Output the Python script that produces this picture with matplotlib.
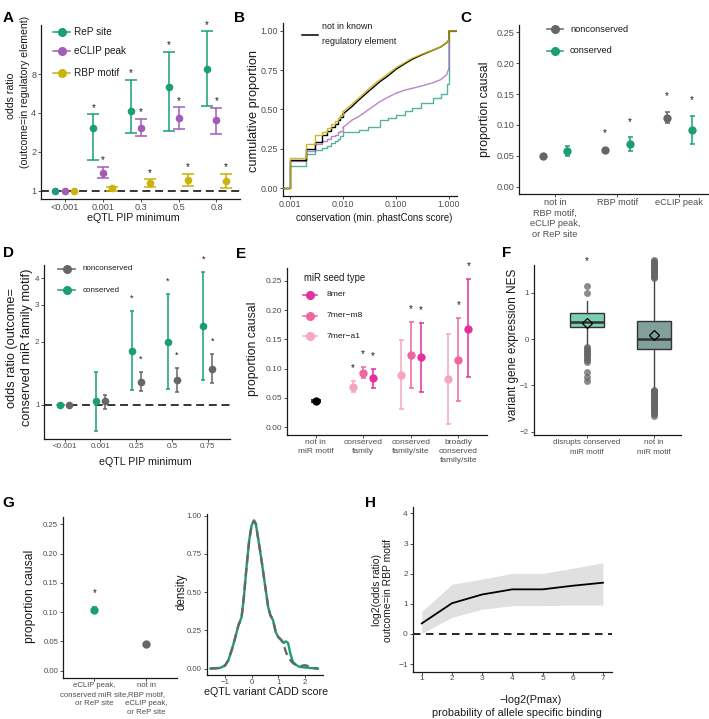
import numpy as np
import matplotlib
matplotlib.use('Agg')
import matplotlib.pyplot as plt
from matplotlib.lines import Line2D

plt.rcParams['font.family'] = ['Liberation Sans', 'DejaVu Sans']
plt.rcParams['axes.unicode_minus'] = True

# ---------------- data ----------------
GREEN = '#1b9e77'; PURPLE = '#a25cb6'; YELLOW = '#c9b30c'; GRAY = '#666666'
PINK8 = '#e3309a'; PINKM8 = '#f0649f'; PINKA1 = '#f6a6c0'

# A
A_cats = ['<0.001', '0.001', '0.3', '0.5', '0.8']
A_rep_or = [1.0, 3.05, 4.16, 6.38, 8.8]
A_rep_lo = [1.0, 1.71, 2.8, 2.89, 4.52]
A_rep_hi = [1.0, 3.89, 7.23, 11.86, 17.1]
A_rep_sig = [False, True, True, True, True]
A_eclip_or = [1.0, 1.38, 3.07, 3.64, 3.5]
A_eclip_lo = [1.0, 1.25, 2.64, 2.98, 2.75]
A_eclip_hi = [1.0, 1.53, 3.58, 4.41, 4.39]
A_eclip_sig = [False, True, True, True, True]
A_rbp_or = [1.0, 1.04, 1.14, 1.21, 1.18]
A_rbp_lo = [1.0, 1.0, 1.06, 1.09, 1.04]
A_rbp_hi = [1.0, 1.07, 1.22, 1.34, 1.34]
A_rbp_sig = [False, False, True, True, True]

# B (cumulative proportion at conservation thresholds)
B_x = [0.001, 0.002, 0.003, 0.004, 0.005, 0.006, 0.007, 0.008, 0.009, 0.010,
       0.015, 0.02, 0.03, 0.05, 0.07, 0.1, 0.15, 0.2, 0.3, 0.5, 0.7, 0.9, 0.99, 1.0]
B_none = [0.18, 0.25, 0.296, 0.338, 0.364, 0.39, 0.41, 0.433, 0.455, 0.47,
          0.52, 0.56, 0.613, 0.677, 0.712, 0.755, 0.793, 0.818, 0.846, 0.877, 0.898, 0.924, 0.94, 1.0]
B_rbp = [0.19, 0.28, 0.335, 0.36, 0.385, 0.405, 0.425, 0.447, 0.465, 0.485,
         0.535, 0.573, 0.627, 0.69, 0.725, 0.765, 0.80, 0.825, 0.85, 0.878, 0.898, 0.922, 0.94, 1.0]
B_eclip = [0.17, 0.235, 0.28, 0.30, 0.315, 0.33, 0.34, 0.355, 0.365, 0.385,
           0.433, 0.455, 0.497, 0.55, 0.577, 0.603, 0.624, 0.634, 0.649, 0.67, 0.69, 0.72, 0.76, 1.0]
B_rep = [0.14, 0.22, 0.245, 0.255, 0.27, 0.285, 0.30, 0.315, 0.33, 0.355,
         0.36, 0.37, 0.39, 0.435, 0.445, 0.465, 0.49, 0.51, 0.54, 0.57, 0.60, 0.66, 0.75, 1.0]

# C
C_cats = ['not in\nRBP motif,\neCLIP peak,\nor ReP site', 'RBP motif', 'eCLIP peak']
C_non = [0.0497, 0.0594, 0.1117]
C_non_lo = [0.049, 0.0575, 0.1027]
C_non_hi = [0.0505, 0.0615, 0.1215]
C_non_sig = [False, True, True]
C_con = [0.0578, 0.0686, 0.0918]
C_con_lo = [0.0497, 0.0578, 0.070]
C_con_hi = [0.0664, 0.080, 0.115]
C_con_sig = [False, True, True]

# D
D_cats = ['<0.001', '0.001', '0.25', '0.5', '0.75']
D_con = [1.0, 1.04, 1.81, 2.0, 2.37]
D_con_lo = [1.0, 0.75, 1.18, 1.19, 1.315]
D_con_hi = [1.0, 1.43, 2.80, 3.38, 4.27]
D_con_sig = [False, False, True, True, True]
D_non = [1.0, 1.04, 1.29, 1.315, 1.48]
D_non_lo = [1.0, 0.96, 1.166, 1.157, 1.27]
D_non_hi = [1.0, 1.11, 1.435, 1.50, 1.74]
D_non_sig = [False, False, True, True, True]

# E
E_cats = ['not in\nmiR motif', 'conserved\nfamily', 'conserved\nfamily/site', 'broadly\nconserved\nfamily/site']
E_none = [0.045]; E_none_lo = [0.0435]; E_none_hi = [0.0465]
E_a1 = [0.0695, 0.0894, 0.082]; E_a1_lo = [0.061, 0.0307, 0.005]; E_a1_hi = [0.079, 0.149, 0.159]
E_a1_sig = [True, False, False]
E_m8 = [0.0934, 0.1236, 0.115]; E_m8_lo = [0.0837, 0.0666, 0.045]; E_m8_hi = [0.1036, 0.179, 0.186]
E_m8_sig = [True, True, True]
E_8 = [0.0837, 0.1196, 0.168]; E_8_lo = [0.0678, 0.061, 0.085]; E_8_hi = [0.099, 0.178, 0.253]
E_8_sig = [True, True, True]

# F (box statistics)
F_cats = ['disrupts conserved\nmiR motif', 'not in\nmiR motif']
F_med = [0.374, 0.0]
F_q1 = [0.266, -0.216]
F_q3 = [0.555, 0.40]
F_wlo = [-0.13, -1.065]
F_whi = [0.83, 1.31]
F_mean = [0.34, 0.086]
F_fliers1 = [1.15, 1.0, -0.17, -0.2, -0.23, -0.26, -0.29, -0.32, -0.35, -0.38, -0.42, -0.45, -0.49, -0.72, -0.81, -0.91]
F_fliers2 = [1.33, 1.35, 1.37, 1.39, 1.41, 1.43, 1.45, 1.47, 1.49, 1.51, 1.53, 1.55, 1.57, 1.59, 1.61, 1.63, 1.65, 1.67, 1.69, 1.71,
             -1.09, -1.11, -1.13, -1.15, -1.17, -1.19, -1.21, -1.23, -1.25, -1.27, -1.29, -1.31, -1.33, -1.35, -1.37,
             -1.39, -1.41, -1.43, -1.45, -1.47, -1.49, -1.51, -1.53, -1.56, -1.59, -1.62, -1.66]
F_star = 1.68

# G
G_cats = ['eCLIP peak,\nconserved miR site,\nor ReP site', 'not in\nRBP motif,\neCLIP peak,\nor ReP site']
G_val = [0.104, 0.045]; G_lo = [0.101, 0.0435]; G_hi = [0.108, 0.0465]; G_sig = [True, False]
G_x = [-1.55, -1.19, -1.0, -0.875, -0.75, -0.625, -0.5, -0.375, -0.29, -0.19, -0.09, 0.0, 0.09, 0.16, 0.25,
       0.375, 0.5, 0.625, 0.71, 0.81, 0.91, 1.0, 1.125, 1.21, 1.29, 1.375, 1.46, 1.56, 1.69, 1.81, 2.0, 2.1, 2.19, 2.5]
G_dens_green = [0.0, 0.004, 0.02, 0.054, 0.12, 0.196, 0.28, 0.337, 0.467, 0.663, 0.837, 0.935, 0.967, 0.946, 0.848,
                0.707, 0.554, 0.402, 0.348, 0.315, 0.239, 0.207, 0.185, 0.167, 0.178, 0.167, 0.098, 0.043, 0.022, 0.011, 0.007, 0.006, 0.004, 0.0]
G_dens_gray = [0.0, 0.004, 0.02, 0.054, 0.12, 0.196, 0.28, 0.337, 0.467, 0.663, 0.837, 0.935, 0.967, 0.946, 0.848,
               0.707, 0.554, 0.402, 0.348, 0.315, 0.239, 0.207, 0.185, 0.160, 0.110, 0.075, 0.055, 0.035, 0.022, 0.015, 0.022, 0.018, 0.006, 0.0]

# H
H_x = [1, 2, 3, 4, 5, 6, 7]
H_y = [0.35, 1.02, 1.31, 1.48, 1.48, 1.60, 1.70]
H_lo = [0.02, 0.55, 0.82, 0.94, 0.94, 0.96, 0.96]
H_hi = [0.74, 1.65, 1.82, 2.01, 2.01, 2.18, 2.36]

# ---------------- figure ----------------
W, H = 709, 719
fig = plt.figure(figsize=(W / 100, H / 100), dpi=100)


def ax_px(l, t, r, b):
    return fig.add_axes([l / W, 1 - b / H, (r - l) / W, (b - t) / H])


def ftext(x, y, s, **kw):
    kw.setdefault('ha', 'center'); kw.setdefault('va', 'center')
    kw.setdefault('color', '#1a1a1a')
    fig.text(x / W, 1 - y / H, s, **kw)


def style(ax, fs=6.6):
    for s in ['top', 'right']:
        ax.spines[s].set_visible(False)
    for s in ['left', 'bottom']:
        ax.spines[s].set_linewidth(0.9)
        ax.spines[s].set_color('#1a1a1a')
    ax.tick_params(length=2.0, width=0.6, color='#333333', labelsize=fs, labelcolor='#4d4d4d', pad=0.6)
    ax.tick_params(axis='y', pad=1.5)
    ax.patch.set_alpha(0)


def legend_px(entries, xl0, xl1, xt, fs, marker=True):
    for (y, col, lab) in entries:
        fig.add_artist(Line2D([xl0 / W, xl1 / W], [1 - y / H, 1 - y / H], color=col, lw=1.1))
        if marker:
            fig.add_artist(Line2D([(xl0 + xl1) / 2 / W], [1 - y / H], color=col, marker='o', ms=5.5, lw=0))
        ftext(xt, y, lab, ha='left', fontsize=fs)


def pointrange(ax, xs, ys, lo, hi, col, ms=5.5, cap=4, lw=1.1):
    xs = np.asarray(xs, float); ys = np.asarray(ys, float)
    lo = np.asarray(lo, float); hi = np.asarray(hi, float)
    m = hi > lo
    if m.any():
        ax.errorbar(xs[m], ys[m], yerr=[ys[m] - lo[m], hi[m] - ys[m]], fmt='none', ecolor=col,
                    elinewidth=lw, capsize=cap, capthick=lw, zorder=3)
    ax.plot(xs, ys, 'o', color=col, ms=ms, zorder=4, mec='none')


def stars(ax, xs, hi, sig, off_pt, fs=7):
    for x, h, s in zip(xs, hi, sig):
        if s:
            ax.annotate('*', (x, h), xytext=(0, off_pt), textcoords='offset points',
                        ha='center', va='center', fontsize=fs, color='#1a1a1a')


# ---------- Panel A ----------
ax = ax_px(41, 25, 240, 199)
style(ax)
pos = np.arange(len(A_cats))
for off, (v, lo, hi, sig, col) in zip([-0.25, 0.0, 0.25], [
        (A_rep_or, A_rep_lo, A_rep_hi, A_rep_sig, GREEN),
        (A_eclip_or, A_eclip_lo, A_eclip_hi, A_eclip_sig, PURPLE),
        (A_rbp_or, A_rbp_lo, A_rbp_hi, A_rbp_sig, YELLOW)]):
    pointrange(ax, pos + off, v, lo, hi, col, ms=5.5, cap=4)
    stars(ax, pos + off, hi, sig, 4.8)
ax.axhline(1, color='black', lw=1.1, ls=(0, (5.2, 3.1)), zorder=2)
ax.set_yscale('log', base=2)
ax.set_ylim(0.86, 19.2)
ax.set_yticks([1, 2, 4, 8]); ax.set_yticklabels(['1', '2', '4', '8'])
ax.yaxis.set_minor_locator(matplotlib.ticker.NullLocator())
ax.set_xlim(-0.63, 4.62)
ax.set_xticks(pos); ax.set_xticklabels(A_cats)
ftext(133.7, 218.3, 'eQTL PIP minimum', fontsize=7.7)
ftext(11, 96, 'odds ratio', rotation=90, fontsize=7.6)
ftext(25, 92, '(outcome=in regulatory element)', rotation=90, fontsize=7.6)
legend_px([(31.7, GREEN, 'ReP site'), (51, PURPLE, 'eCLIP peak'), (72.7, YELLOW, 'RBP motif')], 53, 70, 73.5, 7.2)

# ---------- Panel B ----------
ax = ax_px(283, 23, 457, 196)
style(ax, 6.4)
ax.set_xscale('log')
ax.set_xlim(0.000748, 1.415)
ax.set_ylim(-0.05, 1.05)
xl = ax.get_xlim()
n_step = B_x.index(0.010) + 1
for vals, col, a, z, smooth in [(B_rep, GREEN, 0.75, 2, False), (B_eclip, PURPLE, 0.75, 3, True),
                                (B_none, 'black', 1.0, 4, True), (B_rbp, YELLOW, 0.9, 5, True)]:
    if smooth:
        # stepped ECDF for the low-conservation bins, dense (visually smooth) beyond 0.01
        xs = [xl[0]] + B_x[:n_step]
        ys = [0.0] + vals[:n_step]
        ax.plot(xs, ys, drawstyle='steps-post', color=col, lw=1.0, alpha=a, zorder=z)
        xs2 = B_x[n_step - 1:-1] + [B_x[-1], B_x[-1], xl[1]]
        ys2 = vals[n_step - 1:-1] + [vals[-2], vals[-1], vals[-1]]
        ax.plot(xs2, ys2, color=col, lw=1.0, alpha=a, zorder=z)
    else:
        xs = [xl[0]] + B_x + [xl[1]]
        ys = [0.0] + vals + [1.0]
        ax.plot(xs, ys, drawstyle='steps-post', color=col, lw=1.0, alpha=a, zorder=z)
ax.set_xticks([0.001, 0.01, 0.1, 1.0]); ax.set_xticklabels(['0.001', '0.010', '0.100', '1.000'])
ax.xaxis.set_minor_locator(matplotlib.ticker.NullLocator())
ax.set_yticks([0, 0.25, 0.5, 0.75, 1.0]); ax.set_yticklabels(['0.00', '0.25', '0.50', '0.75', '1.00'])
ftext(374, 218.3, 'conservation (min. phastCons score)', fontsize=6.9)
ftext(254, 111, 'cumulative proportion', rotation=90, fontsize=9.2)
fig.add_artist(Line2D([301.7 / W, 318.3 / W], [1 - 35 / H, 1 - 35 / H], color='black', lw=1.1))
ftext(321.7, 26.5, 'not in known', ha='left', fontsize=6.4)
ftext(321.7, 41, 'regulatory element', ha='left', fontsize=6.4)

# ---------- Panel C ----------
ax = ax_px(519, 25, 709, 194.3)
style(ax)
pos = np.arange(len(C_cats))
pointrange(ax, pos - 0.2, C_non, C_non_lo, C_non_hi, GRAY, ms=6, cap=1.8)
stars(ax, pos - 0.2, C_non_hi, C_non_sig, 11)
pointrange(ax, pos + 0.2, C_con, C_con_lo, C_con_hi, GREEN, ms=6, cap=1.8)
stars(ax, pos + 0.2, C_con_hi, C_con_sig, 11)
ax.set_xlim(-0.58, 2.48)
ax.set_ylim(-0.0123, 0.262)
ax.set_yticks([0, 0.05, 0.1, 0.15, 0.2, 0.25]); ax.set_yticklabels(['0.00', '0.05', '0.10', '0.15', '0.20', '0.25'])
ax.set_xticks(pos); ax.set_xticklabels(C_cats, linespacing=1.22, va='top')
ftext(485, 109, 'proportion causal', rotation=90, fontsize=8.9)
legend_px([(29.3, GRAY, 'nonconserved'), (50.7, GREEN, 'conserved')], 546.7, 563.3, 570, 6.7)

# ---------- Panel D ----------
ax = ax_px(44.3, 265, 230, 439)
style(ax, 5.8)
pos = np.arange(len(D_cats))
pointrange(ax, pos - 0.126, D_con, D_con_lo, D_con_hi, GREEN, ms=5.5, cap=1.6)
stars(ax, pos - 0.126, D_con_hi, D_con_sig, 9.2, 6.5)
pointrange(ax, pos + 0.126, D_non, D_non_lo, D_non_hi, GRAY, ms=5.5, cap=1.6)
stars(ax, pos + 0.126, D_non_hi, D_non_sig, 9.2, 6.5)
ax.axhline(1, color='black', lw=1.1, ls=(0, (5.2, 3.1)), zorder=2)
ax.set_yscale('log')
ax.set_ylim(0.689, 4.63)
ax.yaxis.set_major_locator(matplotlib.ticker.FixedLocator([1, 2, 3, 4]))
ax.yaxis.set_major_formatter(matplotlib.ticker.FixedFormatter(['1', '2', '3', '4']))
ax.yaxis.set_minor_locator(matplotlib.ticker.NullLocator())
ax.set_xlim(-0.57, 4.62)
ax.set_xticks(pos); ax.set_xticklabels(D_cats)
ftext(145, 461.7, 'eQTL PIP minimum', fontsize=7.7)
ftext(12.5, 347.5, 'odds ratio (outcome=', rotation=90, fontsize=9.2)
ftext(27, 347.5, 'conserved miR family motif)', rotation=90, fontsize=9.2)
legend_px([(269, GRAY, 'nonconserved'), (290, GREEN, 'conserved')], 58.3, 75, 82.7, 5.8)

# ---------- Panel E ----------
ax = ax_px(287, 268, 487, 435)
style(ax, 6.0)
pos = np.arange(len(E_cats))
pointrange(ax, pos[:1], E_none, E_none_lo, E_none_hi, 'black', ms=6, cap=3.5)
for off, (v, lo, hi, sig, col) in zip([-0.21, 0.0, 0.21], [
        (E_a1, E_a1_lo, E_a1_hi, E_a1_sig, PINKA1),
        (E_m8, E_m8_lo, E_m8_hi, E_m8_sig, PINKM8),
        (E_8, E_8_lo, E_8_hi, E_8_sig, PINK8)]):
    pointrange(ax, pos[1:] + off, v, lo, hi, col, ms=6, cap=1.8)
    stars(ax, pos[1:] + off, hi, sig, 9.3)
ax.set_xlim(-0.6, 3.6)
ax.set_ylim(-0.0132, 0.272)
ax.set_yticks([0, 0.05, 0.1, 0.15, 0.2, 0.25]); ax.set_yticklabels(['0.00', '0.05', '0.10', '0.15', '0.20', '0.25'])
ax.set_xticks(pos); ax.set_xticklabels(E_cats, linespacing=1.45)
ftext(253.3, 348.3, 'proportion causal', rotation=90, fontsize=8.8)
ftext(304, 277.7, 'miR seed type', ha='left', fontsize=6.9)
legend_px([(295, PINK8, '8mer'), (315.7, PINKM8, '7mer\u2212m8'), (336, PINKA1, '7mer\u2212a1')], 303.3, 317.3, 326.7, 6.1)

# ---------- Panel F ----------
ax = ax_px(534, 265, 681, 435)
style(ax, 5.8)
stats = []
for i in range(2):
    stats.append(dict(med=F_med[i], q1=F_q1[i], q3=F_q3[i], whislo=F_wlo[i], whishi=F_whi[i],
                      mean=F_mean[i], fliers=[F_fliers1, F_fliers2][i]))
bp = ax.bxp(stats, positions=[1, 2], widths=0.5, patch_artist=True, showmeans=True, showcaps=False,
            medianprops=dict(color='#333333', lw=1.8),
            whiskerprops=dict(color='#444444', lw=1.0),
            boxprops=dict(edgecolor='#333333', lw=1.0),
            flierprops=dict(marker='o', markerfacecolor='#666666', markeredgecolor='none', alpha=0.75, markersize=5),
            meanprops=dict(marker='D', markerfacecolor='none', markeredgecolor='black', markeredgewidth=0.9, markersize=5.5))
for patch, c in zip(bp['boxes'], ['#7acfb0', '#81a099']):
    patch.set_facecolor(c)
for fl in bp['fliers']:
    fl.set_clip_on(False)
ax.set_xlim(0.21, 2.40)
ax.set_ylim(-2.07, 1.6)
ax.set_yticks([-2, -1, 0, 1]); ax.set_yticklabels(['\u22122', '\u22121', '0', '1'])
ax.set_xticks([1, 2]); ax.set_xticklabels(F_cats, linespacing=1.75)
ax.text(1, F_star, '*', ha='center', va='center', fontsize=7, color='#1a1a1a', clip_on=False)
ftext(513.3, 345, 'variant gene expression NES', rotation=90, fontsize=8.5)

# ---------- Panel G (left) ----------
ax = ax_px(63, 517, 176.7, 678)
style(ax, 5.6)
pos = np.arange(len(G_cats))
for i in range(2):
    pointrange(ax, [pos[i]], [G_val[i]], [G_lo[i]], [G_hi[i]], [GREEN, GRAY][i], ms=6, cap=1.8)
stars(ax, pos, G_hi, G_sig, 10)
ax.set_xlim(-0.605, 1.59)
ax.set_ylim(-0.0125, 0.2625)
ax.set_yticks([0, 0.05, 0.1, 0.15, 0.2, 0.25]); ax.set_yticklabels(['0.00', '0.05', '0.10', '0.15', '0.20', '0.25'])
ax.set_xticks(pos); ax.set_xticklabels(G_cats, linespacing=1.4)
ftext(30, 596.7, 'proportion causal', rotation=90, fontsize=8.7)

# ---------- Panel G (right) ----------
ax = ax_px(206.7, 514, 323, 675)
style(ax, 5.6)
ax.plot(G_x, G_dens_green, color=GREEN, lw=1.7, zorder=3)
ax.plot(G_x, G_dens_gray, color='#666666', lw=1.7, ls=(0, (3.5, 2.2)), zorder=4)
ax.set_xlim(-1.69, 2.69)
ax.set_ylim(-0.042, 1.01)
ax.set_yticks([0, 0.25, 0.5, 0.75, 1.0]); ax.set_yticklabels(['0.00', '0.25', '0.50', '0.75', '1.00'])
ax.set_xticks([-1, 0, 1, 2]); ax.set_xticklabels(['\u22121', '0', '1', '2'])
ftext(266, 692, 'eQTL variant CADD score', fontsize=7.7)
ftext(181.7, 591.7, 'density', rotation=90, fontsize=8.3)

# ---------- Panel H ----------
ax = ax_px(412.7, 506.7, 611.7, 671.7)
style(ax, 6.0)
ax.fill_between(H_x, H_lo, H_hi, color='#e0e0e0', lw=0, zorder=1)
ax.plot(H_x, H_y, color='black', lw=1.3, zorder=3)
ax.axhline(0, color='black', lw=1.2, ls=(0, (4.5, 3.3)), zorder=2)
ax.set_xlim(0.70, 7.29)
ax.set_ylim(-1.25, 4.22)
ax.set_yticks([-1, 0, 1, 2, 3, 4]); ax.set_yticklabels(['\u22121', '0', '1', '2', '3', '4'])
ax.set_xticks(H_x)
ftext(376.7, 590, 'log2(odds ratio)', rotation=90, fontsize=7.5)
ftext(388.3, 590, 'outcome=in RBP motif', rotation=90, fontsize=7.5)
ftext(530.6, 700, '\u2212log2(Pmax)', fontsize=7.8)
ftext(516.5, 713.3, 'probability of allele specific binding', fontsize=7.8)

# ---------- panel letters ----------
for (x, y, s) in [(8, 18, 'A'), (240, 18, 'B'), (466, 18, 'C'), (8, 253, 'D'), (241, 254, 'E'),
                  (507, 253, 'F'), (8, 503, 'G'), (370, 503, 'H')]:
    ftext(x, y, s, fontsize=11, fontweight='bold', color='black')

fig.savefig('out.png', dpi=100)
